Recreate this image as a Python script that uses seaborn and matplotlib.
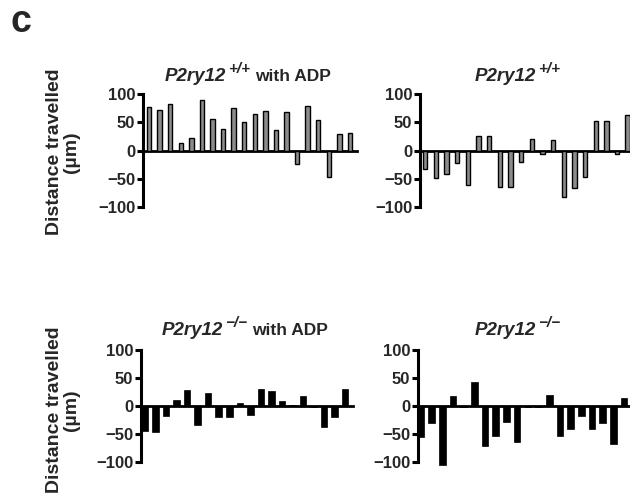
import numpy as np
import pandas as pd
import matplotlib
matplotlib.use("Agg")
import matplotlib.pyplot as plt
import seaborn as sns

sns.set_theme(style="white")
plt.rcParams['font.family'] = ['Liberation Sans', 'DejaVu Sans']

# Data (distance travelled, µm), 20 cells per condition
wt_adp = [77, 71, 82, 13, 23, 90, 56, 38, 75, 50, 65, 70, 36, 69, -24, 79, 54, -47, 30, 31]
wt = [-32, -49, -41, -22, -61, 26, 26, -64, -64, -20, 21, -7, 18, -83, -67, -47, 53, 53, -6, 63]
ko_adp = [-44, -47, -17, 11, 28, -34, 24, -20, -20, 5, -16, 30, 26, 9, 1, 17, -1, -38, -20, 31]
ko = [-55, -30, -105, 17, -1, 43, -71, -54, -29, -65, -2, -1, 19, -54, -41, -17, -41, -31, -68, 14]

gene = "P2ry12"
genotypes = ["+/+", "+/+", "\u2212/\u2212", "\u2212/\u2212"]
title_suffix = ["with ADP", "", "with ADP", ""]
yticks = [-100, -50, 0, 50, 100]
yticklabels = ["\u2212100", "\u221250", "0", "50", "100"]

W, H = 630, 495
fig = plt.figure(figsize=(W / 100, H / 100), dpi=100)
renderer = fig.canvas.get_renderer()

def ax_at(x0, x1, ytop, ybot):
    return fig.add_axes([x0 / W, 1 - ybot / H, (x1 - x0) / W, (ybot - ytop) / H])

def px_text(x, y, s, **kw):
    t = fig.text(x / W, 1 - y / H, s, ha="left", va="baseline", **kw)
    bb = t.get_window_extent(renderer)
    return t, bb.x1  # right edge in display px

# pixel positions: spine-left, right end, y at +105, y at -110
panels = [
    dict(data=wt_adp, box=(143, 357, 91.2, 212.7), xlim=(-0.58, 19.67), color="#8c8c8c", width=0.42, edge=1.0, title=(165, 81)),
    dict(data=wt, box=(420, 632, 91.2, 212.7), xlim=(-0.48, 19.4), color="#8c8c8c", width=0.42, edge=1.0, title=(475, 81)),
    dict(data=ko_adp, box=(141, 353, 347.2, 467.6), xlim=(-0.38, 19.75), color="black", width=0.62, edge=0.5, title=(162, 335)),
    dict(data=ko, box=(418, 632, 347.2, 467.6), xlim=(-0.28, 19.75), color="black", width=0.62, edge=0.5, title=(475, 335)),
]

for i, p in enumerate(panels):
    ax = ax_at(*p["box"])
    df = pd.DataFrame({"cell": np.arange(len(p["data"])), "dist": p["data"]})
    sns.barplot(data=df, x="cell", y="dist", ax=ax, color=p["color"], width=p["width"],
                edgecolor="black", linewidth=p["edge"], saturation=1)
    ax.set_xlim(*p["xlim"])
    ax.set_ylim(-110, 105)
    for s in ["top", "right"]:
        ax.spines[s].set_visible(False)
    ax.spines["left"].set_bounds(-100, 100)
    ax.spines["left"].set_linewidth(2.2)
    ax.spines["left"].set_color("black")
    ax.spines["bottom"].set_position(("data", 0))
    ax.spines["bottom"].set_linewidth(2.0)
    ax.spines["bottom"].set_color("black")
    ax.spines["bottom"].set_zorder(0.5)
    ax.set_xticks([])
    ax.set_yticks(yticks)
    ax.set_yticklabels(yticklabels)
    ax.tick_params(axis="y", direction="out", length=4, width=2.2, color="black",
                   labelsize=12, pad=1.5, left=True)
    for lab in ax.get_yticklabels():
        lab.set_fontweight("bold")
    ax.set_xlabel("")
    ax.set_ylabel("")
    ax.patch.set_alpha(0)
    # title: italic gene name, superscript genotype, plain suffix
    tx, ty = p["title"]
    _, x1 = px_text(tx, ty, gene, fontsize=13.5, fontstyle="italic", fontweight="bold")
    _, x2 = px_text(x1 + 2, ty - 8, genotypes[i], fontsize=11, fontstyle="italic", fontweight="bold")
    if title_suffix[i]:
        px_text(x2 + 5, ty, title_suffix[i], fontsize=12.5, fontweight="bold")

# y-axis labels
for yc in [152, 410]:
    fig.text(63 / W, 1 - yc / H, "Distance travelled\n(\u00b5m)", rotation=90,
             fontsize=14, fontweight="bold", ha="center", va="center", linespacing=1.05)

fig.text(10 / W, 1 - 32 / H, "c", fontsize=27, fontweight="bold", ha="left", va="baseline")

fig.savefig("out.png", dpi=100)
